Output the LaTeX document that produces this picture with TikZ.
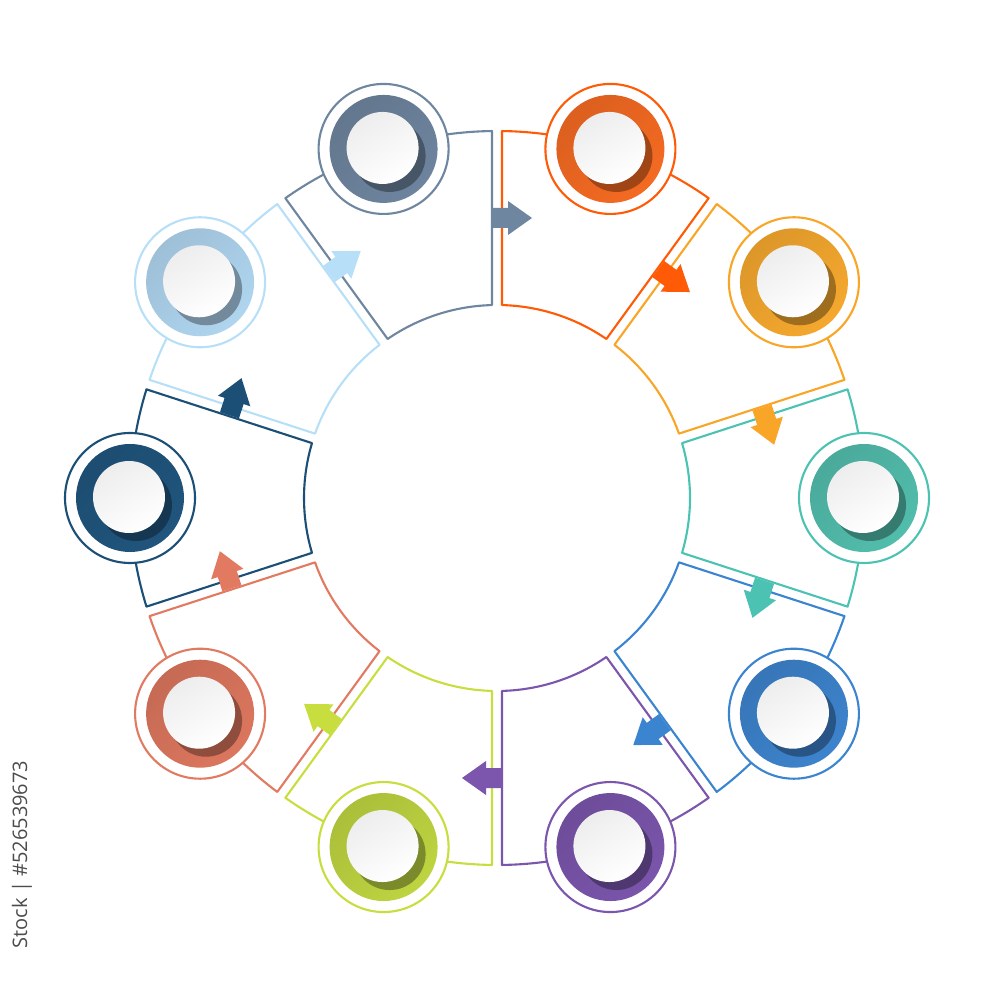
\documentclass[tikz,border=0pt]{standalone}
\usepackage{fontspec}
\newfontfamily\idfont{Open Sans}

\definecolor{lnGray}{HTML}{6F86A0}
\definecolor{lnOrange}{HTML}{FF5A05}
\definecolor{lnAmber}{HTML}{F9A527}
\definecolor{lnTeal}{HTML}{4CC3B2}
\definecolor{lnBlue}{HTML}{3A84D0}
\definecolor{lnPurple}{HTML}{7B56AC}
\definecolor{lnLime}{HTML}{C8DD3E}
\definecolor{lnSalmon}{HTML}{E27A62}
\definecolor{lnNavy}{HTML}{1B4F76}
\definecolor{lnSky}{HTML}{B7E0F8}

\definecolor{dkGray}{HTML}{6E849E}
\definecolor{dkOrange}{HTML}{F46A22}
\definecolor{dkAmber}{HTML}{F5A82E}
\definecolor{dkTeal}{HTML}{52BDAC}
\definecolor{dkBlue}{HTML}{3D83CC}
\definecolor{dkPurple}{HTML}{7A55AB}
\definecolor{dkLime}{HTML}{BED440}
\definecolor{dkSalmon}{HTML}{DC765E}
\definecolor{dkNavy}{HTML}{20557D}
\definecolor{dkSky}{HTML}{AFD5EF}

\tikzset{
  segline/.style={line width=0.6pt, line join=round},
  ring/.style={circle, draw=#1, fill=white, line width=0.6pt, minimum size=1.30cm, inner sep=0pt},
}

\begin{document}
\begin{tikzpicture}
\useasboundingbox (-4.97,-5.02) rectangle (5.03,4.98);

% segments round the middle
\foreach \a/\c in {108/lnGray, 72/lnOrange, 36/lnAmber, 0/lnTeal, -36/lnBlue, -72/lnPurple, -108/lnLime, -144/lnSalmon, 180/lnNavy, 144/lnSky}{
  \draw[segline, draw=\c] ({\a+17.22}:3.67) -- ({\a+16.52}:1.93)
    arc[start angle=\a+16.52, end angle=\a-16.52, radius=1.93]
    -- ({\a-17.22}:3.67)
    arc[start angle=\a-17.22, end angle=\a+17.22, radius=3.67] -- cycle;
}

% arrows on the borders, clockwise
\foreach \a/\c in {108/lnGray, 72/lnOrange, 36/lnAmber, 0/lnTeal, -36/lnBlue, -72/lnPurple, -108/lnLime, -144/lnSalmon, 180/lnNavy, 144/lnSky}{
  \begin{scope}[shift={({\a-18}:2.80)}, rotate=\a-108]
    \fill[\c] (-0.04,-0.10) -- (0.11,-0.10) -- (0.11,-0.17) -- (0.35,0)
      -- (0.11,0.17) -- (0.11,0.10) -- (-0.04,0.10) -- cycle;
  \end{scope}
}

% markers
\foreach \a/\c/\f [count=\i] in {108/lnGray/dkGray, 72/lnOrange/dkOrange, 36/lnAmber/dkAmber, 0/lnTeal/dkTeal, -36/lnBlue/dkBlue, -72/lnPurple/dkPurple, -108/lnLime/dkLime, -144/lnSalmon/dkSalmon, 180/lnNavy/dkNavy, 144/lnSky/dkSky}{
  \node[ring=\c] (m\i) at (\a:3.67) {};
  \shade[top color=\f!90!black, bottom color=\f, shading angle=45] (m\i.center) circle (0.54);
  \fill[\f!65!black] ([shift={(0.06,-0.07)}]m\i.center) circle (0.36);
  \shade[top color=black!7, bottom color=white, shading angle=30] ([shift={(-0.01,0.01)}]m\i.center) circle (0.36);
}

\node[rotate=90, anchor=east, inner sep=0pt, text=black!70, font=\idfont\fontsize{5.7}{6}\selectfont] (stockid) at (-4.75,-2.62) {Stock | \#526539673};
\end{tikzpicture}
\end{document}
